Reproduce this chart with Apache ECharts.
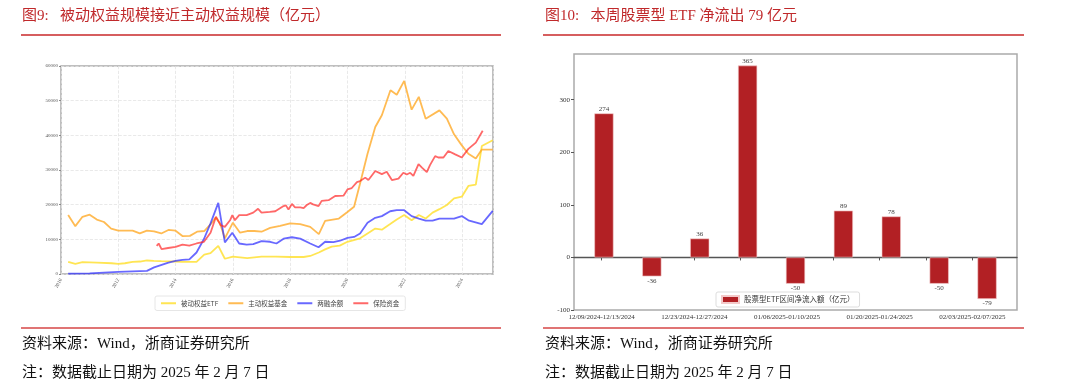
<!DOCTYPE html>
<html><head><meta charset="utf-8">
<script src="https://cdn.jsdelivr.net/npm/echarts@6/dist/echarts.min.js"></script>
<style>html,body{margin:0;padding:0;background:#fff}#c{width:1080px;height:388px}</style>
</head><body><div id="c"></div>
<script>
// ---------- Left chart data (亿元) ----------
var passiveEtfX = [2010.25,2010.5,2010.75,2011.25,2011.77,2012.0,2012.23,2012.5,2012.76,2013.0,2013.24,2013.5,2014.0,2014.24,2014.73,2015.0,2015.22,2015.49,2015.72,2016.0,2016.5,2017.0,2017.3,2017.5,2018.0,2018.47,2018.7,2019.0,2019.22,2019.45,2019.73,2020.0,2020.44,2020.7,2020.97,2021.2,2021.49,2021.72,2021.98,2022.24,2022.49,2022.73,2022.97,2023.21,2023.47,2023.72,2023.99,2024.22,2024.48,2024.69,2025.07];
var passiveEtfY = [3500,2900,3400,3300,3100,2900,3100,3500,3600,3900,3800,3700,3600,3500,3500,5600,6000,8100,4400,5000,4600,5000,5000,5000,4900,4900,5200,6200,7100,7900,8200,9300,10300,11700,13100,12800,14400,15700,17000,15500,17000,16000,17700,18700,19900,21800,22300,25400,25800,36900,38600];

var activeFundX = [2010.25,2010.5,2010.75,2011.0,2011.25,2011.5,2011.75,2012.0,2012.25,2012.5,2012.75,2013.0,2013.25,2013.5,2013.75,2014.0,2014.25,2014.5,2014.75,2015.0,2015.25,2015.4,2015.55,2015.72,2016.0,2016.25,2016.5,2016.75,2017.0,2017.3,2017.65,2018.0,2018.35,2018.7,2019.0,2019.22,2019.7,2020.0,2020.23,2020.44,2020.7,2020.97,2021.2,2021.5,2021.72,2021.98,2022.24,2022.49,2022.73,2023.21,2023.47,2023.72,2023.99,2024.22,2024.48,2024.69,2025.07];
var activeFundY = [17000,13800,16500,17100,15700,15000,13100,12500,12500,12500,11700,12500,12300,11700,12700,12500,10900,11000,12200,12400,14600,16300,14600,10300,14800,11900,12400,12400,12200,13300,13900,14600,14400,13600,11500,15300,16000,17900,19400,26100,34700,42400,45800,53000,51700,55700,47400,51100,44800,47200,44800,40300,37100,34700,33300,35900,35900];

var marginX = [2010.25,2011.0,2012.0,2013.0,2013.25,2013.75,2014.0,2014.24,2014.48,2014.73,2014.99,2015.22,2015.49,2015.72,2015.98,2016.22,2016.48,2016.71,2017.0,2017.3,2017.52,2017.77,2018.06,2018.35,2018.7,2018.99,2019.22,2019.51,2019.74,2020.0,2020.23,2020.44,2020.7,2020.97,2021.2,2021.49,2021.72,2021.98,2022.24,2022.49,2022.73,2022.97,2023.21,2023.72,2023.99,2024.22,2024.69,2025.07];
var marginY = [100,200,600,900,1900,3300,3800,4100,4200,6200,10100,14600,20500,9100,11900,8800,8500,8600,9500,9300,8800,10200,10600,10200,8800,7700,9300,9200,9600,10400,10700,11700,14800,16200,16700,18100,18400,18400,16700,16000,15400,15400,16000,16000,16700,15500,14400,18200];

var insuranceX = [2013.34,2013.41,2013.51,2013.74,2014.0,2014.24,2014.48,2014.73,2014.99,2015.22,2015.41,2015.57,2015.72,2015.9,2015.98,2016.07,2016.22,2016.48,2016.71,2016.88,2017.0,2017.29,2017.48,2017.77,2017.85,2017.94,2018.06,2018.17,2018.35,2018.47,2018.58,2018.7,2018.8,2018.99,2019.1,2019.34,2019.57,2019.86,2020.0,2020.15,2020.33,2020.44,2020.62,2020.73,2020.97,2021.2,2021.37,2021.55,2021.78,2021.95,2022.07,2022.19,2022.3,2022.48,2022.6,2022.77,2022.88,2023.06,2023.17,2023.35,2023.52,2023.76,2023.99,2024.22,2024.48,2024.72];
var insuranceY = [8100,8800,7200,7500,7800,8500,8200,8800,9300,11900,16500,14100,13600,15500,17000,15500,17000,17000,17700,18800,17700,17900,18100,19600,19800,18600,20200,19200,19200,19000,19900,20500,20100,19600,21100,21300,22500,22600,24400,24800,26500,26800,27800,27100,29700,28800,29500,27100,27500,29200,28700,29200,28300,31700,30700,29400,31400,34000,33600,33600,35500,34500,33600,36100,37900,41300];

var leftNames = ['被动权益ETF','主动权益基金','两融余额','保险资金'];
var yearTicks = [2010,2012,2014,2016,2018,2020,2022,2024];

// ---------- Right chart data (亿元) ----------
var weeks = ['12/09/2024-12/13/2024','12/16/2024-12/20/2024','12/23/2024-12/27/2024','12/30/2024-01/03/2025','01/06/2025-01/10/2025','01/13/2025-01/17/2025','01/20/2025-01/24/2025','01/27/2025-01/31/2025','02/03/2025-02/07/2025'];
var etfFlow = [274,-36,36,365,-50,89,78,-50,-79];
var rightName = '股票型ETF区间净流入额（亿元）';

function zip(xs, ys){ return xs.map(function(x,i){ return [x, ys[i]]; }); }

var serif = "'Liberation Serif','Noto Sans CJK SC',serif";
var cjk = "'Noto Sans CJK SC','Liberation Serif',sans-serif";
var lineColors = ['rgba(255,222,40,0.8)','rgba(255,170,40,0.8)','rgba(40,40,255,0.7)','rgba(255,40,40,0.7)'];
var leftData = [zip(passiveEtfX,passiveEtfY), zip(activeFundX,activeFundY), zip(marginX,marginY), zip(insuranceX,insuranceY)];

var series = leftNames.map(function(n,i){
  return {name:n, type:'line', xAxisIndex:0, yAxisIndex:0, data:leftData[i], showSymbol:false,
    lineStyle:{color:lineColors[i], width:1.8}, itemStyle:{color:lineColors[i]}, z:3};
});
series.push({
  name: rightName, type:'bar', xAxisIndex:2, yAxisIndex:2, barWidth:'40%',
  itemStyle:{color:'#b22024', borderColor:'#f3c9c9', borderWidth:0.6},
  data: etfFlow.map(function(v){
    return {value:v, label:{show:true, position: v>=0?'top':'bottom', distance:1, fontSize:7, color:'#444', fontFamily:serif}};
  })
});

var RMIN = -100, RMAX = 387;
var chart = echarts.init(document.getElementById('c'), null, {renderer:'canvas'});
chart.setOption({
  animation:false,
  backgroundColor:'#fff',
  grid:[
    {left:61, top:66, width:432, height:208, show:true, borderColor:'#aaa', borderWidth:1.5, backgroundColor:'transparent'},
    {left:574, top:54, width:443, height:256, show:true, borderColor:'#aaa', borderWidth:1.5, backgroundColor:'transparent'},
    {left:580, top:54, width:431, height:256},
    {left:578.5, top:54, width:417, height:256}
  ],
  legend:[
    {data:leftNames, left:155, top:296, itemWidth:15, itemHeight:2, itemGap:10, icon:'rect',
      textStyle:{fontSize:6.5, color:'#444', fontFamily:cjk}, borderColor:'#e6e6e6', borderWidth:1, borderRadius:2, padding:[4,6]},
    {data:[rightName], left:716, top:292, itemWidth:17, itemHeight:7, icon:'rect',
      textStyle:{fontSize:7.5, color:'#333', fontFamily:cjk}, borderColor:'#ddd', borderWidth:1, borderRadius:2, padding:[3,5]}
  ],
  xAxis:[
    {type:'value', gridIndex:0, min:2010, max:2025.08, interval:2,
      axisLine:{show:false}, axisTick:{show:false},
      splitLine:{show:true, lineStyle:{color:'#e3e3e3', type:'dashed', width:0.8}},
      axisLabel:{fontSize:5, color:'#555', rotate:60, margin:5, fontFamily:serif, showMaxLabel:false,
        formatter:function(v){ return yearTicks.indexOf(v)>=0 ? String(v) : ''; }}},
    {type:'value', gridIndex:1, min:0, max:1, show:true,
      axisLine:{show:true, onZero:true, lineStyle:{color:'#555', width:1.3}},
      axisTick:{show:false}, axisLabel:{show:false}, splitLine:{show:false}},
    {type:'category', gridIndex:2, data:weeks, show:false},
    {type:'category', gridIndex:3, data:weeks, position:'bottom',
      axisLine:{show:false}, axisTick:{show:true, interval:0, length:3, alignWithLabel:true, lineStyle:{color:'#555'}},
      splitLine:{show:false},
      axisLabel:{interval:1, fontSize:7, color:'#333', margin:4, fontFamily:serif}}
  ],
  yAxis:[
    {type:'value', gridIndex:0, min:0, max:60000, interval:10000,
      axisLine:{show:false}, axisTick:{show:true, length:2, lineStyle:{color:'#888'}},
      splitLine:{show:true, lineStyle:{color:'#e3e3e3', type:'dashed', width:0.8}},
      axisLabel:{fontSize:5, color:'#555', margin:3, fontFamily:serif, formatter:function(v){ return String(v); }}},
    {type:'value', gridIndex:1, min:RMIN, max:RMAX, interval:100,
      axisLine:{show:false}, axisTick:{show:true, length:3, lineStyle:{color:'#555'}},
      splitLine:{show:false},
      axisLabel:{fontSize:7, color:'#333', margin:4, fontFamily:serif, showMaxLabel:false}},
    {type:'value', gridIndex:2, min:RMIN, max:RMAX, show:false, splitLine:{show:false}},
    {type:'value', gridIndex:3, min:RMIN, max:RMAX, show:false, splitLine:{show:false}}
  ],
  series: series,
  graphic:[
    {type:'text', left:22, top:9, style:{text:'图9:   被动权益规模接近主动权益规模（亿元）', fontSize:15, fill:'#c0292b', fontFamily:serif}},
    {type:'text', left:545, top:9, style:{text:'图10:   本周股票型 ETF 净流出 79 亿元', fontSize:15, fill:'#c0292b', fontFamily:serif}},
    {type:'line', shape:{x1:21, y1:35, x2:501, y2:35}, style:{stroke:'#c8282a', lineWidth:1.5}},
    {type:'line', shape:{x1:543, y1:35, x2:1024, y2:35}, style:{stroke:'#c8282a', lineWidth:1.5}},
    {type:'line', shape:{x1:21, y1:328, x2:501, y2:328}, style:{stroke:'#e07474', lineWidth:2}},
    {type:'line', shape:{x1:543, y1:328, x2:1024, y2:328}, style:{stroke:'#e07474', lineWidth:2}},
    {type:'text', left:22, top:337, style:{text:'资料来源：Wind，浙商证券研究所', fontSize:15, fill:'#111', fontFamily:serif}},
    {type:'text', left:22, top:366, style:{text:'注：数据截止日期为 2025 年 2 月 7 日', fontSize:15, fill:'#111', fontFamily:serif}},
    {type:'text', left:545, top:337, style:{text:'资料来源：Wind，浙商证券研究所', fontSize:15, fill:'#111', fontFamily:serif}},
    {type:'text', left:545, top:366, style:{text:'注：数据截止日期为 2025 年 2 月 7 日', fontSize:15, fill:'#111', fontFamily:serif}}
  ]
});
</script>
</body></html>
